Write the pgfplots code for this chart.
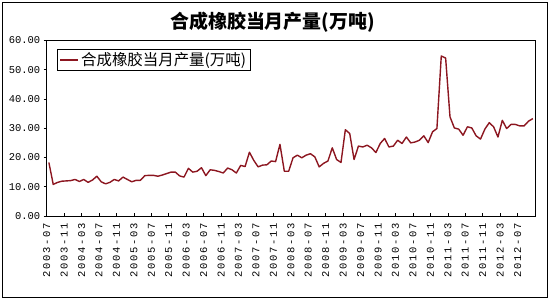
\documentclass[border=0pt]{standalone}
\usepackage{fontspec}
\usepackage{pgfplots}
\pgfplotsset{compat=1.18}
\setmainfont{Liberation Sans}
\newfontfamily\cjk{Noto Sans CJK SC}
\newfontfamily\ticky{Liberation Mono}
\newfontfamily\tickx[LetterSpace=16]{Liberation Mono}
\definecolor{linered}{RGB}{140,22,32}

\pgfplotstableread{
x y
0.5 18.3
1.5 10.8
2.5 11.5
3.5 11.9
4.5 12.0
5.5 12.1
6.5 12.5
7.5 11.8
8.5 12.5
9.5 11.5
10.5 12.3
11.5 13.6
12.5 11.7
13.5 11.0
14.5 11.5
15.5 12.5
16.5 12.0
17.5 13.3
18.5 12.5
19.5 11.7
20.5 12.2
21.5 12.2
22.5 13.8
23.5 13.9
24.5 13.9
25.5 13.6
26.5 14.0
27.5 14.5
28.5 15.0
29.5 15.0
30.5 13.7
31.5 13.3
32.5 16.3
33.5 15.0
34.5 15.3
35.5 16.5
36.5 13.8
37.5 15.8
38.5 15.6
39.5 15.2
40.5 14.7
41.5 16.4
42.5 15.8
43.5 14.7
44.5 17.3
45.5 16.9
46.5 21.8
47.5 19.0
48.5 16.8
49.5 17.4
50.5 17.5
51.5 18.8
52.5 18.6
53.5 24.5
54.5 15.3
55.5 15.3
56.5 19.9
57.5 20.8
58.5 19.9
59.5 20.8
60.5 21.3
61.5 20.2
62.5 16.8
63.5 18.0
64.5 18.8
65.5 23.3
66.5 19.3
67.5 18.3
68.5 29.5
69.5 28.2
70.5 19.3
71.5 23.9
72.5 23.6
73.5 24.2
74.5 23.3
75.5 21.7
76.5 24.8
77.5 26.5
78.5 23.6
79.5 23.9
80.5 25.9
81.5 24.8
82.5 27.0
83.5 25.0
84.5 25.3
85.5 25.9
86.5 27.4
87.5 25.1
88.5 28.8
89.5 29.9
90.5 54.7
91.5 54.0
92.5 33.9
93.5 30.1
94.5 29.7
95.5 27.6
96.5 30.5
97.5 30.1
98.5 27.4
99.5 26.3
100.5 29.7
101.5 31.9
102.5 30.5
103.5 27.0
104.5 32.7
105.5 29.9
106.5 31.3
107.5 31.3
108.5 30.8
109.5 30.8
110.5 32.4
111.5 33.3
}\prod

\begin{document}
\begin{tikzpicture}[x=1bp,y=1bp]
\path[use as bounding box] (0,0) rectangle (550,300);
\draw[line width=0.9bp] (2.5,2.5) rectangle (547.5,297.5);
\node[font=\cjk\bfseries\fontsize{19}{22}\selectfont] at (272.5,278) {合成橡胶当月产量(万吨)};
\begin{axis}[
  at={(46.7bp,84bp)}, anchor=south west,
  scale only axis, width=488.3bp, height=175.5bp,
  xmin=0, xmax=112, ymin=0, ymax=60,
  axis line style={line width=0.8bp, black},
  xtick={0,4,...,108},
  xticklabels={2003-07,2003-11,2004-03,2004-07,2004-11,2005-03,2005-07,2005-11,2006-03,2006-07,2006-11,2007-03,2007-07,2007-11,2008-03,2008-07,2008-11,2009-03,2009-07,2009-11,2010-03,2010-07,2010-11,2011-03,2011-07,2011-11,2012-03,2012-07},
  ytick={0,10,...,60},
  xtick pos=bottom, ytick pos=left,
  tick align=inside,
  major tick length=3bp,
  tick style={black, line width=0.6bp},
  y tick style={xshift=-3bp},
  xticklabel style={yshift=-6bp, rotate=90, anchor=east, font=\tickx\fontsize{10.5}{12}\selectfont, inner sep=1bp},
  yticklabel style={font=\ticky\fontsize{10.5}{12}\selectfont, xshift=-3bp},
  /pgf/number format/.cd, fixed, fixed zerofill, precision=2, assume math mode=true,
  /pgfplots/.cd,
  legend style={at={(0.021,0.951)}, anchor=north west, draw=black, line width=0.8bp,
    font=\cjk\fontsize{15.5}{17}\selectfont, inner xsep=2bp, inner ysep=1bp,
    legend cell align=left},
  legend image post style={line width=1.8bp},
  legend image code/.code={\draw[#1] (0bp,0bp) -- (18bp,0bp);},
]
\addplot[color=linered, line width=1.4bp, line join=round] table[x=x,y=y] {\prod};
\addlegendentry{合成橡胶当月产量(万吨)}
\end{axis}
\end{tikzpicture}
\end{document}
